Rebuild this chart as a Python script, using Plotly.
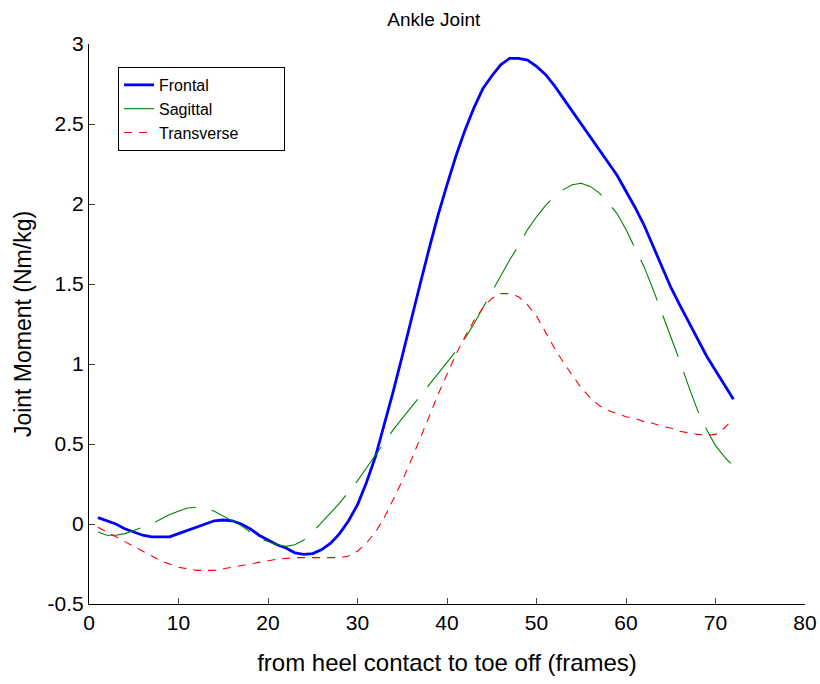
import plotly.graph_objects as go

frames = list(range(1, 73))

frontal = [0.04, 0.02, 0.0, -0.03, -0.05, -0.07, -0.08, -0.08, -0.08, -0.06,
           -0.04, -0.02, 0.0, 0.02, 0.025, 0.02, 0.0, -0.03, -0.07, -0.10,
           -0.13, -0.15, -0.18, -0.19, -0.185, -0.16, -0.12, -0.06, 0.02, 0.12,
           0.26, 0.42, 0.62, 0.83, 1.05, 1.28, 1.50, 1.72, 1.93, 2.12,
           2.30, 2.46, 2.60, 2.72, 2.80, 2.87, 2.91, 2.91, 2.90, 2.86,
           2.81, 2.74, 2.66, 2.58, 2.50, 2.42, 2.34, 2.26, 2.18, 2.08,
           1.98, 1.87, 1.74, 1.61, 1.48, 1.37, 1.26, 1.15, 1.05, 0.96,
           0.87, 0.78]

sagittal = [-0.05, -0.07, -0.07, -0.06, -0.04, -0.02, 0.0, 0.03, 0.06, 0.08,
            0.10, 0.105, 0.10, 0.08, 0.05, 0.02, -0.01, -0.05, -0.09, -0.11,
            -0.13, -0.14, -0.13, -0.10, -0.05, 0.01, 0.07, 0.13, 0.20, 0.27,
            0.35, 0.43, 0.51, 0.59, 0.66, 0.73, 0.80, 0.87, 0.94, 1.01,
            1.08, 1.16, 1.25, 1.35, 1.45, 1.55, 1.65, 1.74, 1.84, 1.92,
            1.99, 2.05, 2.09, 2.12, 2.13, 2.11, 2.07, 2.01, 1.94, 1.84,
            1.73, 1.61, 1.47, 1.32, 1.18, 1.02, 0.86, 0.71, 0.59, 0.49,
            0.42, 0.36]

transverse = [-0.02, -0.05, -0.08, -0.11, -0.14, -0.17, -0.20, -0.23, -0.25, -0.27,
              -0.28, -0.29, -0.29, -0.29, -0.28, -0.27, -0.26, -0.25, -0.24, -0.23,
              -0.22, -0.215, -0.21, -0.21, -0.21, -0.21, -0.21, -0.21, -0.20, -0.17,
              -0.12, -0.05, 0.04, 0.15, 0.27, 0.40, 0.53, 0.67, 0.81, 0.94,
              1.06, 1.17, 1.27, 1.35, 1.41, 1.44, 1.44, 1.42, 1.37, 1.30,
              1.20, 1.10, 1.01, 0.93, 0.85, 0.79, 0.74, 0.71, 0.69, 0.67,
              0.66, 0.64, 0.63, 0.61, 0.60, 0.58, 0.57, 0.56, 0.555, 0.56,
              0.60, 0.66]

x_ticks = [0, 10, 20, 30, 40, 50, 60, 70, 80]
y_ticks = [-0.5, 0, 0.5, 1, 1.5, 2, 2.5, 3]
y_tick_labels = ["-0.5", "0", "0.5", "1", "1.5", "2", "2.5", "3"]

FONT = "Liberation Sans, Arial, sans-serif"
PAD = "\u00a0" * 9

fig = go.Figure()
fig.add_trace(go.Scatter(x=frames, y=frontal, mode="lines", name="Frontal",
                         line=dict(color="#0000ff", width=2.8)))
fig.add_trace(go.Scatter(x=frames, y=sagittal, mode="lines", name="Sagittal",
                         line=dict(color="#008000", width=1.1, dash="44px,16px")))
fig.add_trace(go.Scatter(x=frames, y=transverse, mode="lines", name="Transverse" + PAD,
                         line=dict(color="#ff0000", width=1.1, dash="8px,7px")))

fig.update_layout(
    width=820, height=684,
    margin=dict(l=89, r=15, t=44, b=80, autoexpand=False),
    paper_bgcolor="white", plot_bgcolor="white",
    font=dict(family=FONT, color="black"),
    title=dict(text="Ankle Joint", x=0.529, xanchor="center", y=0.971, yanchor="middle",
               font=dict(size=19, family=FONT)),
    showlegend=True,
    legend=dict(x=0.0405, y=0.959, xanchor="left", yanchor="top",
                bgcolor="white", bordercolor="black", borderwidth=1,
                font=dict(size=16, family=FONT), tracegroupgap=0,
                itemwidth=30),
    xaxis=dict(range=[0, 80], tickvals=x_ticks, ticks="inside", ticklen=6,
               showline=True, linecolor="black", linewidth=1, mirror=False,
               showgrid=False, zeroline=False, ticklabeloverflow="allow",
               automargin=False,
               tickfont=dict(size=21, family=FONT),
               title=dict(text="from heel contact to toe off (frames)",
                          font=dict(size=24, family=FONT), standoff=20)),
    yaxis=dict(range=[-0.5, 3], tickvals=y_ticks, ticktext=y_tick_labels,
               ticks="inside", ticklen=6,
               showline=True, linecolor="black", linewidth=1, mirror=False,
               showgrid=False, zeroline=False, automargin=False,
               tickfont=dict(size=21, family=FONT),
               title=dict(text="Joint Moment (Nm/kg)",
                          font=dict(size=23, family=FONT), standoff=9)),
)

fig.write_html("out.html", config={"displayModeBar": False},
               post_script="document.body.style.margin='0px';document.body.style.overflow='hidden';")
